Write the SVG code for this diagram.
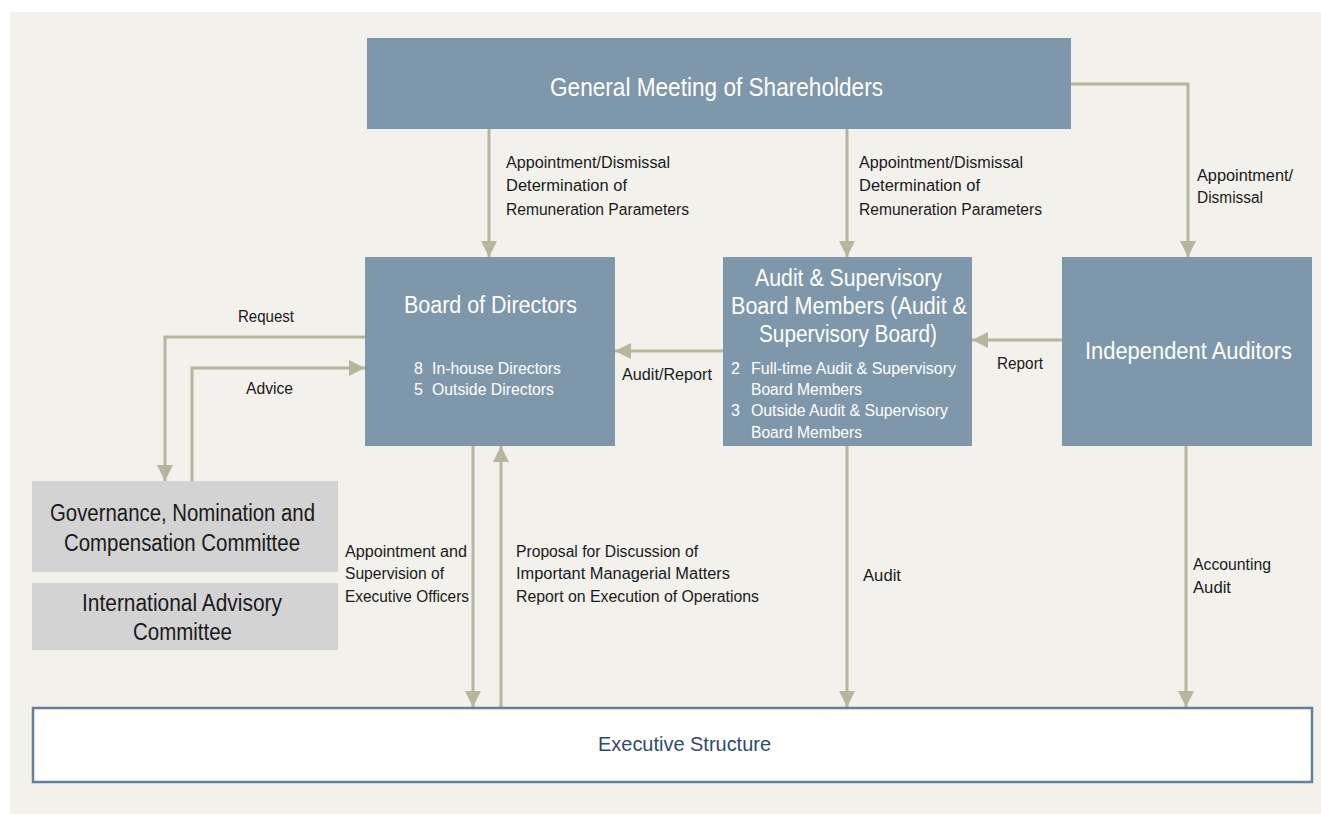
<svg xmlns="http://www.w3.org/2000/svg" width="1321" height="814" viewBox="0 0 1321 814">
<defs>
<marker id="ah" markerUnits="userSpaceOnUse" markerWidth="16" markerHeight="16" refX="16" refY="8" orient="auto"><path d="M0,0 L16,8 L0,16 z" fill="#b6b59e"/></marker>
<style>
.box{fill:#7f97ab}
.gbox{fill:#d3d3d3}
.wt{font-family:"Liberation Sans",Arial,sans-serif;fill:#ffffff}
.bt{font-family:"Liberation Sans",Arial,sans-serif;fill:#1a1a1a}
.lbl{font-family:"Liberation Sans",Arial,sans-serif;fill:#1a1a1a;font-size:16px}
.con{fill:none;stroke:#b6b59e;stroke-width:3}
</style>
</defs>
<rect x="0" y="0" width="1321" height="814" fill="#ffffff"/>
<rect x="10" y="12" width="1311" height="802" fill="#f2f1ec"/>

<g id="connectors">
<path class="con" d="M489,129 V257" marker-end="url(#ah)"/>
<path class="con" d="M847,129 V257" marker-end="url(#ah)"/>
<path class="con" d="M1071,84 H1188 V257" marker-end="url(#ah)"/>
<path class="con" d="M1062,340 H972" marker-end="url(#ah)"/>
<path class="con" d="M723,351 H615" marker-end="url(#ah)"/>
<path class="con" d="M365,337 H165 V481" marker-end="url(#ah)"/>
<path class="con" d="M192,481 V368 H365" marker-end="url(#ah)"/>
<path class="con" d="M473,446 V707" marker-end="url(#ah)"/>
<path class="con" d="M501,707 V446" marker-end="url(#ah)"/>
<path class="con" d="M847,446 V707" marker-end="url(#ah)"/>
<path class="con" d="M1186,446 V707" marker-end="url(#ah)"/>
</g>

<g id="labels">
<text class="lbl" x="506" y="168" textLength="164" lengthAdjust="spacingAndGlyphs">Appointment/Dismissal</text>
<text class="lbl" x="506" y="191" textLength="121" lengthAdjust="spacingAndGlyphs">Determination of</text>
<text class="lbl" x="506" y="215" textLength="183" lengthAdjust="spacingAndGlyphs">Remuneration Parameters</text>
<text class="lbl" x="859" y="168" textLength="164" lengthAdjust="spacingAndGlyphs">Appointment/Dismissal</text>
<text class="lbl" x="859" y="191" textLength="121" lengthAdjust="spacingAndGlyphs">Determination of</text>
<text class="lbl" x="859" y="215" textLength="183" lengthAdjust="spacingAndGlyphs">Remuneration Parameters</text>
<text class="lbl" x="1197" y="181" textLength="96" lengthAdjust="spacingAndGlyphs">Appointment/</text>
<text class="lbl" x="1197" y="203" textLength="66" lengthAdjust="spacingAndGlyphs">Dismissal</text>
<text class="lbl" x="238" y="322" textLength="56" lengthAdjust="spacingAndGlyphs">Request</text>
<text class="lbl" x="246" y="394" textLength="47" lengthAdjust="spacingAndGlyphs">Advice</text>
<text class="lbl" x="622" y="380" textLength="90" lengthAdjust="spacingAndGlyphs">Audit/Report</text>
<text class="lbl" x="997" y="369" textLength="46" lengthAdjust="spacingAndGlyphs">Report</text>
<text class="lbl" x="345" y="557" textLength="122" lengthAdjust="spacingAndGlyphs">Appointment and</text>
<text class="lbl" x="345" y="579" textLength="99" lengthAdjust="spacingAndGlyphs">Supervision of</text>
<text class="lbl" x="345" y="602" textLength="124" lengthAdjust="spacingAndGlyphs">Executive Officers</text>
<text class="lbl" x="516" y="557" textLength="182" lengthAdjust="spacingAndGlyphs">Proposal for Discussion of</text>
<text class="lbl" x="516" y="579" textLength="214" lengthAdjust="spacingAndGlyphs">Important Managerial Matters</text>
<text class="lbl" x="516" y="602" textLength="243" lengthAdjust="spacingAndGlyphs">Report on Execution of Operations</text>
<text class="lbl" x="863" y="581" textLength="38" lengthAdjust="spacingAndGlyphs">Audit</text>
<text class="lbl" x="1193" y="570" textLength="78" lengthAdjust="spacingAndGlyphs">Accounting</text>
<text class="lbl" x="1193" y="593" textLength="38" lengthAdjust="spacingAndGlyphs">Audit</text>
</g>

<g id="general-meeting">
<rect class="box" x="367" y="38" width="704" height="91"/>
<text class="wt" x="550" y="96" font-size="25" textLength="333" lengthAdjust="spacingAndGlyphs">General Meeting of Shareholders</text>
</g>

<g id="board-of-directors">
<rect class="box" x="365" y="257" width="250" height="189"/>
<text class="wt" x="404" y="313" font-size="23" textLength="173" lengthAdjust="spacingAndGlyphs">Board of Directors</text>
<text class="wt" x="414" y="374" font-size="16">8</text>
<text class="wt" x="432" y="374" font-size="16" textLength="129" lengthAdjust="spacingAndGlyphs">In-house Directors</text>
<text class="wt" x="414" y="395" font-size="16">5</text>
<text class="wt" x="432" y="395" font-size="16" textLength="122" lengthAdjust="spacingAndGlyphs">Outside Directors</text>
</g>

<g id="audit-supervisory">
<rect class="box" x="723" y="257" width="249" height="189"/>
<text class="wt" x="755" y="286" font-size="23" textLength="187" lengthAdjust="spacingAndGlyphs">Audit &amp; Supervisory</text>
<text class="wt" x="731" y="314" font-size="23" textLength="236" lengthAdjust="spacingAndGlyphs">Board Members (Audit &amp;</text>
<text class="wt" x="759" y="342" font-size="23" textLength="178" lengthAdjust="spacingAndGlyphs">Supervisory Board)</text>
<text class="wt" x="731" y="374" font-size="16">2</text>
<text class="wt" x="751" y="374" font-size="16" textLength="205" lengthAdjust="spacingAndGlyphs">Full-time Audit &amp; Supervisory</text>
<text class="wt" x="751" y="395" font-size="16" textLength="111" lengthAdjust="spacingAndGlyphs">Board Members</text>
<text class="wt" x="731" y="416" font-size="16">3</text>
<text class="wt" x="751" y="416" font-size="16" textLength="197" lengthAdjust="spacingAndGlyphs">Outside Audit &amp; Supervisory</text>
<text class="wt" x="751" y="438" font-size="16" textLength="111" lengthAdjust="spacingAndGlyphs">Board Members</text>
</g>

<g id="independent-auditors">
<rect class="box" x="1062" y="257" width="250" height="189"/>
<text class="wt" x="1085" y="359" font-size="23" textLength="207" lengthAdjust="spacingAndGlyphs">Independent Auditors</text>
</g>

<g id="governance-committee">
<rect class="gbox" x="32" y="481" width="306" height="91"/>
<text class="bt" x="50" y="521" font-size="23" textLength="265" lengthAdjust="spacingAndGlyphs">Governance, Nomination and</text>
<text class="bt" x="64" y="551" font-size="23" textLength="236" lengthAdjust="spacingAndGlyphs">Compensation Committee</text>
</g>

<g id="international-advisory">
<rect class="gbox" x="32" y="583" width="306" height="67"/>
<text class="bt" x="82" y="611" font-size="23" textLength="200" lengthAdjust="spacingAndGlyphs">International Advisory</text>
<text class="bt" x="133" y="640" font-size="23" textLength="99" lengthAdjust="spacingAndGlyphs">Committee</text>
</g>

<g id="executive-structure">
<rect x="33" y="708" width="1279" height="74" fill="#ffffff" stroke="#647f9a" stroke-width="2.5"/>
<text x="598" y="751" font-family="Liberation Sans, Arial, sans-serif" font-size="21" fill="#2e4a72" textLength="173" lengthAdjust="spacingAndGlyphs">Executive Structure</text>
</g>
</svg>
